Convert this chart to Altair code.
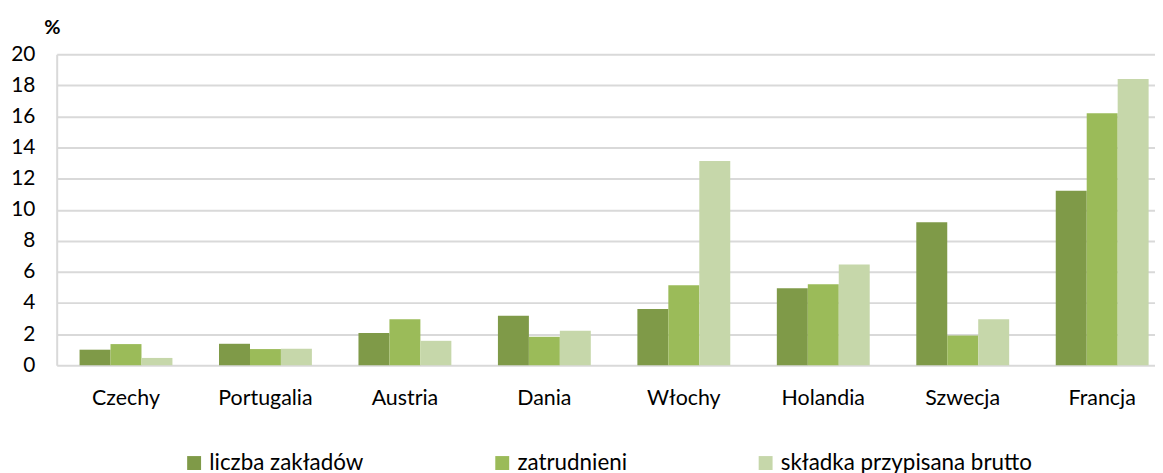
import altair as alt
import pandas as pd

categories = ["Czechy", "Portugalia", "Austria", "Dania", "Włochy", "Holandia", "Szwecja", "Francja"]
series = ["liczba zakładów", "zatrudnieni", "składka przypisana brutto"]
liczba = [1.0, 1.38, 2.08, 3.19, 3.61, 4.95, 9.2, 11.22]
zatrudnieni = [1.36, 1.04, 2.95, 1.83, 5.14, 5.21, 1.91, 16.2]
skladka = [0.47, 1.06, 1.57, 2.21, 13.13, 6.48, 2.95, 18.4]
colors = ["#7F9A48", "#9BBB59", "#C6D7AA"]
y_ticks = list(range(0, 21, 2))

rows = []
for s, vals in zip(series, [liczba, zatrudnieni, skladka]):
    for c, v in zip(categories, vals):
        rows.append({"kraj": c, "seria": s, "wartosc": v})
df = pd.DataFrame(rows)

FONT = "Lato"

chart = alt.Chart(df).mark_bar().encode(
    x=alt.X("kraj:N", sort=categories,
            scale=alt.Scale(paddingInner=0.334, paddingOuter=0.1048, align=0.782),
            axis=alt.Axis(title=None, labelAngle=0, ticks=False, labelPadding=22,
                          labelFontSize=21.5, labelColor="#000000", labelFont=FONT,
                          domain=False, grid=False)),
    xOffset=alt.XOffset("seria:N", sort=series, scale=alt.Scale(paddingInner=0, domain=series)),
    y=alt.Y("wartosc:Q", scale=alt.Scale(domain=[0, 20]),
            axis=alt.Axis(values=y_ticks, title="%", titleAngle=0, titleAlign="left",
                          titleBaseline="alphabetic", titleX=-13, titleY=-21, titleFontSize=20,
                          titleFontWeight="bold", titleFont=FONT, titleColor="#000000",
                          gridColor="#D9D9D9", gridWidth=2, domain=True, domainColor="#D9D9D9",
                          domainWidth=2, ticks=False, labelFontSize=21, labelFont=FONT,
                          labelColor="#000000", labelPadding=22)),
    color=alt.Color("seria:N", sort=series,
                    scale=alt.Scale(domain=series, range=colors),
                    legend=alt.Legend(title=None, orient="none", legendX=127, legendY=400,
                                      direction="horizontal",
                                      columnPadding=128, labelFontSize=22.5, labelFont=FONT,
                                      labelColor="#000000", symbolType="square",
                                      symbolSize=196, symbolStrokeWidth=0,
                                      labelOffset=4, labelLimit=0)),
).properties(
    width=1105, height=313,
    padding={"left": 2, "top": 8, "right": 0, "bottom": 0},
).configure_view(stroke=None)

chart.save("out.html", embed_options={"renderer": "svg", "actions": False})
